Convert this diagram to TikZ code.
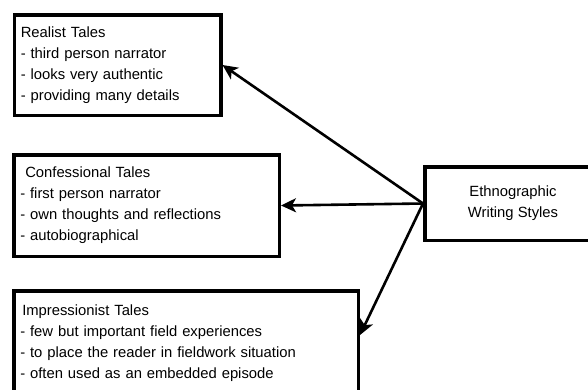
\documentclass[tikz,border=0pt]{standalone}
\usepackage{fontspec}
\setmainfont{Liberation Sans}
\usetikzlibrary{arrows.meta}
\newcommand\talefont{\fontsize{14.8}{21}\selectfont}
\begin{document}
\begin{tikzpicture}[x=1pt,y=-1pt,
tale/.style={draw, line width=3.5pt, align=left, inner xsep=6.5pt, font=\talefont},
styles/.style={draw, line width=3.5pt, align=center, font=\talefont, minimum width=176.5pt, minimum height=73.5pt},
arr/.style={-{Stealth[length=15pt,width=14pt,inset=4pt]}, line width=2.6pt}]
\useasboundingbox (0,0) rectangle (588,389);
\clip (0,0) rectangle (588,389);
%\draw[help lines,step=20pt] (0,0) grid (588,389);
\node (realist) at (117.5,65) [tale, text width=193.5pt, minimum height=100.5pt]
  {Realist Tales\\- third person narrator\\- looks very authentic\\- providing many details};
\node (confess) at (146.5,205.5) [tale, text width=252.5pt, minimum height=101.5pt]
  {\hspace*{5pt}Confessional Tales\\- first person narrator\\- own thoughts and reflections\\- autobiographical};
\node (impress) at (12,289) [tale, anchor=north west, text width=331.5pt, inner ysep=14pt, text depth=120pt]
  {\hspace*{2pt}Impressionist Tales\\- few but important field experiences\\- to place the reader in fieldwork situation\\- often used as an embedded episode};
\node (ethno) at (513,203.5) [styles] {Ethnographic\\Writing Styles};
\draw[arr] (ethno.west) -- (realist.east);
\draw[arr] (ethno.west) -- (confess.east);
\draw[arr] (ethno.west) -- ([yshift=-46pt]impress.north east);
\end{tikzpicture}
\end{document}
